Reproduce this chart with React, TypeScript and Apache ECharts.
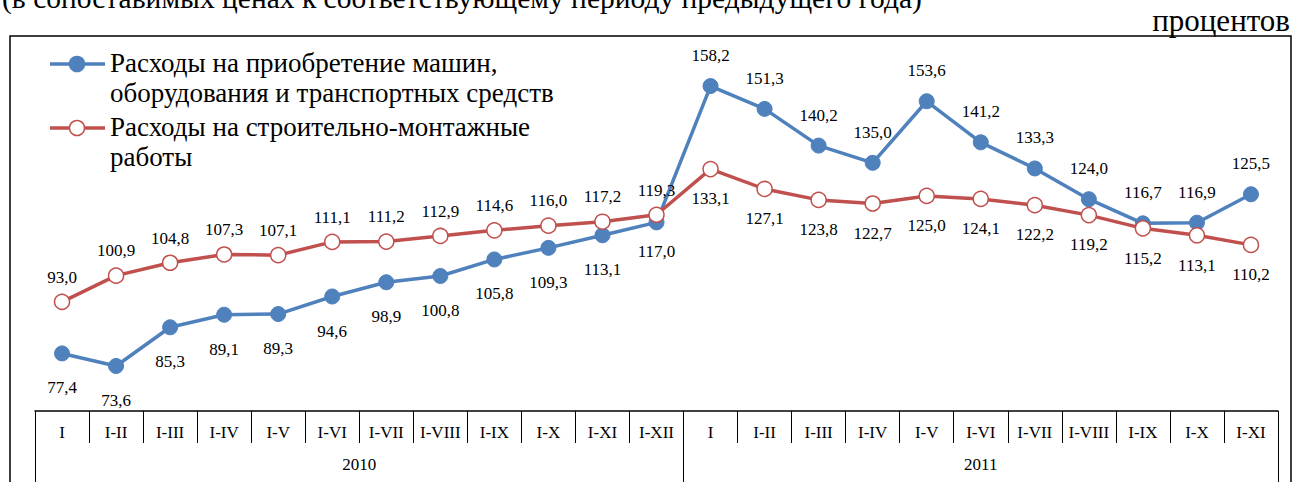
import React, { useEffect, useRef } from 'react';
import * as echarts from 'echarts';

const periods = ['I', 'I-II', 'I-III', 'I-IV', 'I-V', 'I-VI', 'I-VII', 'I-VIII', 'I-IX', 'I-X', 'I-XI', 'I-XII',
  'I', 'I-II', 'I-III', 'I-IV', 'I-V', 'I-VI', 'I-VII', 'I-VIII', 'I-IX', 'I-X', 'I-XI'];
const years = ['2010', '2011'];
const periodsPerYear = [12, 11];
const machines = [77.4, 73.6, 85.3, 89.1, 89.3, 94.6, 98.9, 100.8, 105.8, 109.3, 113.1, 117.0,
  158.2, 151.3, 140.2, 135.0, 153.6, 141.2, 133.3, 124.0, 116.7, 116.9, 125.5];
const construction = [93.0, 100.9, 104.8, 107.3, 107.1, 111.1, 111.2, 112.9, 114.6, 116.0, 117.2, 119.3,
  133.1, 127.1, 123.8, 122.7, 125.0, 124.1, 122.2, 119.2, 115.2, 113.1, 110.2];
const seriesNames = [
  'Расходы на приобретение машин,\nоборудования и транспортных средств',
  'Расходы на строительно-монтажные\nработы',
];
const titleText = '(в сопоставимых ценах к соответствующему периоду предыдущего года)';
const unitText = 'процентов';

const FONT = 'Liberation Serif';
const BLUE = '#4F81BD';
const RED = '#C0504D';

export default function App() {
  const ref = useRef<HTMLDivElement>(null);
  useEffect(() => {
    document.body.style.margin = '0';
    const chart = echarts.init(ref.current!, null, { renderer: 'svg' });

    // half-step year axis
    const totalHalf = periods.length * 2;
    const yearAxisData: string[] = new Array(totalHalf + 1).fill('');
    const yearTicks = new Set<number>();
    let start = 0;
    years.forEach((y, i) => {
      const cnt = periodsPerYear[i];
      yearTicks.add(start * 2);
      yearAxisData[start * 2 + cnt] = y;
      start += cnt;
    });
    yearTicks.add(totalHalf);

    const fmt = (p: any) => Number(p.value).toFixed(1).replace('.', ',');
    const firstYearLen = periodsPerYear[0];

    const labelStyle = { color: '#000', fontFamily: FONT, fontSize: 17, formatter: fmt, show: true };

    const machinesData = machines.map((v, i) => ({
      value: v,
      label: i < firstYearLen
        ? { position: 'bottom', distance: i === firstYearLen - 1 ? 13 : 18 }
        : { position: 'top', distance: 14 },
    }));
    const constructionData = construction.map((v, i) => ({
      value: v,
      label: i < firstYearLen
        ? { position: 'top', distance: 8 }
        : { position: 'bottom', distance: 13 },
    }));

    const legendItems: any[] = [];
    [BLUE, RED].forEach((c, i) => {
      const cy = i === 0 ? 64 : 128;
      legendItems.push({
        type: 'line', shape: { x1: 50, y1: cy, x2: 105, y2: cy },
        style: { stroke: c, lineWidth: 3.5 }, z: 100,
      });
      legendItems.push({
        type: 'circle', shape: { cx: 77, cy, r: 7.5 },
        style: { fill: i === 0 ? BLUE : '#fff', stroke: c, lineWidth: 1.5 }, z: 101,
      });
      legendItems.push({
        type: 'text', x: 110, y: cy - 16, z: 100,
        style: {
          text: seriesNames[i], fill: '#000', fontFamily: FONT, fontSize: 27,
          lineHeight: 30, verticalAlign: 'top', align: 'left',
        },
      });
    });

    chart.setOption({
      animation: false,
      backgroundColor: '#fff',
      textStyle: { fontFamily: FONT },
      grid: { left: 35, right: 21, top: 47, bottom: 71, containLabel: false },
      xAxis: [
        {
          type: 'category', data: periods, position: 'bottom', boundaryGap: true,
          axisLine: { show: true, lineStyle: { color: '#000', width: 1.5 } },
          axisTick: { show: true, interval: 0, length: 32, lineStyle: { color: '#000', width: 1 } },
          axisLabel: { interval: 0, margin: 13, color: '#000', fontFamily: FONT, fontSize: 17 },
          splitLine: { show: false },
        },
        {
          type: 'category', data: yearAxisData, position: 'bottom', offset: 32, boundaryGap: false,
          axisLine: { show: false },
          axisTick: {
            show: true, length: 45, lineStyle: { color: '#000', width: 1 },
            interval: (idx: number) => yearTicks.has(idx),
          },
          axisLabel: { interval: 0, margin: 13, color: '#000', fontFamily: FONT, fontSize: 17 },
          splitLine: { show: false },
        },
      ],
      yAxis: {
        type: 'value', min: 60, max: 170, show: false,
        splitLine: { show: false },
      },
      series: [
        {
          name: seriesNames[0], type: 'line', xAxisIndex: 0, data: machinesData,
          symbol: 'circle', symbolSize: 15,
          lineStyle: { color: BLUE, width: 3.5 },
          itemStyle: { color: BLUE, borderColor: BLUE, borderWidth: 1 },
          label: labelStyle, z: 2,
        },
        {
          name: seriesNames[1], type: 'line', xAxisIndex: 0, data: constructionData,
          symbol: 'circle', symbolSize: 15,
          lineStyle: { color: RED, width: 3.5 },
          itemStyle: { color: '#fff', borderColor: RED, borderWidth: 1.5 },
          label: labelStyle, z: 3,
        },
      ],
      graphic: [
        {
          type: 'rect', shape: { x: 10, y: 36, width: 1281, height: 470 },
          style: { fill: 'none', stroke: '#000', lineWidth: 1.5 }, z: 0, silent: true,
        },
        {
          type: 'text', x: 2, y: -2,
          style: { text: titleText, fill: '#000', fontFamily: FONT, fontSize: 29.5, verticalAlign: 'middle', align: 'left' },
        },
        {
          type: 'text', x: 1290, y: 20,
          style: { text: unitText, fill: '#000', fontFamily: FONT, fontSize: 31, verticalAlign: 'middle', align: 'right' },
        },
        ...legendItems,
      ],
    });
    return () => chart.dispose();
  }, []);
  return <div ref={ref} style={{ width: 1299, height: 482 }} />;
}
